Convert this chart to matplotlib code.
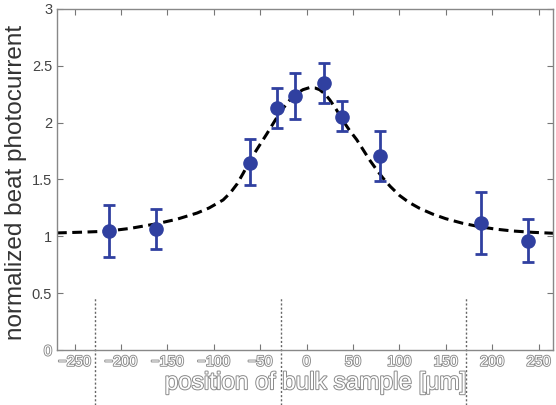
import numpy as np
import matplotlib
matplotlib.use("Agg")
import matplotlib.pyplot as plt
import matplotlib.patheffects as pe

plt.rcParams['font.family'] = ['Liberation Sans', 'DejaVu Sans']

# --- measured points ---
pos_um = [-213, -162, -61, -32, -12, 19, 38, 79, 188, 238]
photocurrent = [1.047, 1.064, 1.648, 2.126, 2.237, 2.352, 2.053, 1.707, 1.120, 0.959]
err_up = [0.229, 0.176, 0.208, 0.176, 0.203, 0.176, 0.140, 0.222, 0.267, 0.193]
err_down = [0.229, 0.175, 0.199, 0.170, 0.207, 0.182, 0.124, 0.218, 0.278, 0.188]

# --- fit curve ---
fit_x = [-269, -240, -215, -190, -162, -140, -118, -105, -90, -82, -75, -68, -61,
         -52, -43, -34, -26, -18, -11, -4, 3, 9, 14, 20, 25, 32, 39, 46, 54, 61,
         68, 75, 82, 90, 100, 110, 122, 136, 150, 168, 186, 204, 222, 244, 266]
fit_y = [1.03, 1.037, 1.045, 1.07, 1.11, 1.15, 1.205, 1.25, 1.32, 1.385, 1.46,
         1.56, 1.67, 1.785, 1.90, 2.02, 2.12, 2.20, 2.255, 2.29, 2.308, 2.305,
         2.29, 2.25, 2.20, 2.115, 2.02, 1.935, 1.85, 1.76, 1.67, 1.59, 1.515,
         1.44, 1.36, 1.30, 1.245, 1.195, 1.155, 1.115, 1.085, 1.063, 1.047,
         1.035, 1.027]

xticks = [-250, -200, -150, -100, -50, 0, 50, 100, 150, 200, 250]
yticks = [0, 0.5, 1, 1.5, 2, 2.5, 3]
guide_x = [-228, -28, 172]

blue = '#3040a0'
ghost = [pe.withStroke(linewidth=1.3, foreground='#8a8a8a')]

fig = plt.figure(figsize=(5.56, 4.05), dpi=100)
ax = fig.add_axes([0.1025, 0.1358, 0.893, 0.842])

ax.plot(fit_x, fit_y, color='black', linestyle=(0, (3.2, 1.8)), linewidth=2.2, zorder=2)
ax.errorbar(pos_um, photocurrent, yerr=[err_down, err_up], fmt='o', color=blue,
            markersize=9.5, elinewidth=2, capsize=4, capthick=2, zorder=3)

# faint dotted guide lines below the axis
for gx in guide_x:
    ax.axvline(gx, ymin=-0.162, ymax=0.152, color='#666666', linestyle=(0, (1.5, 1.5)),
               linewidth=1.0, clip_on=False, zorder=1)

ax.set_xlim(-269, 266)
ax.set_ylim(0, 3)
ax.set_xticks(xticks)
ax.set_yticks(yticks)
ax.set_yticklabels(['0', '0.5', '1', '1.5', '2', '2.5', '3'])
ax.tick_params(direction='in', length=4, width=0.8, color='#777777', top=True, right=True,
               labelsize=10.5, labelcolor='#444444')
for s in ax.spines.values():
    s.set_color('#888888')
    s.set_linewidth(1)

for lbl in ax.get_xticklabels():
    lbl.set_color('white')
    lbl.set_path_effects(ghost)
ylbls = ax.get_yticklabels()
ylbls[0].set_color('white')
ylbls[0].set_path_effects(ghost)

ax.set_ylabel('normalized beat photocurrent', fontsize=17.5, color='#333333')
ax.yaxis.set_label_coords(-0.06, 0.49)
xl = ax.set_xlabel('position of bulk sample [\u03bcm]', fontsize=17.5, color='white')
ax.xaxis.set_label_coords(0.52, -0.065)
xl.set_path_effects([pe.withStroke(linewidth=1.4, foreground='#8a8a8a')])

fig.savefig('out.png', dpi=100)
